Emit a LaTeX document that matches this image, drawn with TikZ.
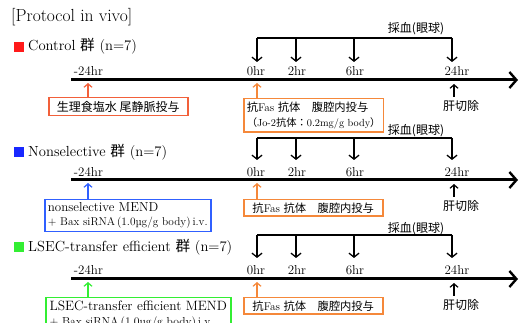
\documentclass[tikz,border=0pt]{standalone}
\usepackage{fontspec}
\newfontfamily\jp{Noto Sans CJK JP}
\usetikzlibrary{arrows.meta}
\definecolor{cred}{HTML}{FF1A1A}
\definecolor{cbox}{HTML}{F2603A}
\definecolor{corange}{HTML}{F5883A}
\definecolor{cblue}{HTML}{3060FF}
\definecolor{cbsq}{HTML}{1828FF}
\definecolor{cgreen}{HTML}{33EE33}
\newcommand\mytimeline[6]{%
  % #1 prefix, #2 timeline y, #3 label y, #4 bracket y, #5 bracket text y, #6 tip y
  \coordinate (#1s) at (71,#2);
  \coordinate (#1e) at (518,#2);
  \draw[tline] (#1s) -- (#1e);
  \coordinate (#1m24) at (88,#2);
  \coordinate (#1h0) at (257,#2);
  \coordinate (#1h24) at (454,#2);
  \node[tlab] (#1lm24) at (88.5,#3) {-24hr};
  \node[tlab] (#1lh0) at (256,#3) {0hr};
  \node[tlab] (#1lh2) at (297,#3) {2hr};
  \node[tlab] (#1lh6) at (355,#3) {6hr};
  \node[tlab] (#1lh24) at (457,#3) {24hr};
  \coordinate (#1b0) at (257,#4);
  \coordinate (#1b2) at (296,#4);
  \coordinate (#1b6) at (354,#4);
  \coordinate (#1b24) at (452,#4);
  \coordinate (#1p0) at (257,#6);
  \coordinate (#1p2) at (296,#6);
  \coordinate (#1p6) at (354,#6);
  \coordinate (#1p24) at (452,#6);
  \draw[bline] (#1b0) -- (#1b24);
  \draw[darrow] (#1b0) -- (#1p0);
  \draw[darrow] (#1b2) -- (#1p2);
  \draw[darrow] (#1b6) -- (#1p6);
  \draw[darrow] (#1b24) -- (#1p24);
  \node[jlab] (#1blood) at (416,#5) {\jp 採血(眼球)};
  \node[jlab] (#1cut) at (461,{#2+26}) {\jp 肝切除};
  \coordinate (#1cuta) at (454,{#2+17});
  \draw[uarrow] (#1cuta) -- ([yshift=-4pt]#1h24);
}
\begin{document}
\begin{tikzpicture}[x=1pt,y=-1pt,
  tline/.style={line width=3pt, -{Straight Barb[length=7pt,width=16pt,line width=2.4pt]}},
  bline/.style={line width=1.3pt},
  darrow/.style={line width=1.3pt, -{Straight Barb[length=4pt,width=10pt]}},
  uarrow/.style={line width=1.2pt, -{Straight Barb[length=3.5pt,width=8pt]}},
  tlab/.style={inner sep=0pt, font=\fontsize{13}{15}\selectfont},
  jlab/.style={inner sep=0pt, font=\fontsize{12}{14}\selectfont},
  head/.style={inner sep=0pt, anchor=west, font=\fontsize{14.6}{17}\selectfont},
  sq/.style={inner sep=0pt, minimum size=10pt},
  box/.style={line width=1.5pt, anchor=north west, inner sep=3pt, align=left},
]
\useasboundingbox (0,0) rectangle (520,323);
\node[head, font=\fontsize{17.5}{20}\selectfont] (title) at (11,17) {[Protocol in vivo]};

% Control
\node[sq, fill=cred] (csq) at (19,47) {};
\node[head] (chead) at (28,46) {Control {\jp 群} (n=7)};
\mytimeline{c}{80}{71}{38}{29}{62}
\node[box, draw=cbox, minimum width=139pt, minimum height=18pt, font=\fontsize{12}{14}\selectfont] (cA) at (48,97) {\jp 生理食塩水 尾静脈投与};
\node[box, draw=corange, minimum width=139pt, minimum height=29pt, font=\fontsize{11.3}{15}\selectfont] (cB) at (243,98)
  {{\jp 抗}Fas {\jp 抗体　腹腔内投与}\\{\fontsize{10.3}{11}\selectfont{\jp （}Jo-2{\jp 抗体：}0.2mg/g body{\jp ）}}};
\draw[uarrow, draw=cbox] (cA.north -| cm24) -- ([yshift=-3pt]cm24);
\draw[uarrow, draw=corange] (cB.north -| ch0) -- ([yshift=-3pt]ch0);

% Nonselective
\node[sq, fill=cbsq] (nsq) at (19,152) {};
\node[head] (nhead) at (28,152) {Nonselective {\jp 群} (n=7)};
\mytimeline{n}{180}{172}{138}{131}{160}
\node[box, draw=cblue, minimum width=166pt, minimum height=31pt, font=\fontsize{13}{14}\selectfont] (nA) at (44,199)
  {nonselective MEND\\{\fontsize{11.3}{13}\selectfont + Bax siRNA\,(1.0µg/g body)\,i.v.}};
\node[box, draw=corange, minimum width=139pt, minimum height=16.5pt, font=\fontsize{11.3}{13}\selectfont] (nB) at (243,199)
  {{\jp 抗}Fas {\jp 抗体　腹腔内投与}};
\draw[uarrow, draw=cblue] (nA.north -| nm24) -- ([yshift=-3pt]nm24);
\draw[uarrow, draw=corange] (nB.north -| nh0) -- ([yshift=-3pt]nh0);

% LSEC
\node[sq, fill=cgreen] (lsq) at (19,247) {};
\node[head] (lhead) at (28,247) {LSEC-transfer efficient {\jp 群} (n=7)};
\mytimeline{l}{279}{270}{235}{229}{258}
\node[box, draw=cgreen, minimum width=185pt, font=\fontsize{13.5}{15}\selectfont] (lA) at (45,297)
  {LSEC-transfer efficient MEND\\{\fontsize{11.6}{13}\selectfont + Bax siRNA\,(1.0µg/g body)\,i.v.}};
\node[box, draw=corange, minimum width=139pt, minimum height=16.5pt, font=\fontsize{11.3}{13}\selectfont] (lB) at (243,297)
  {{\jp 抗}Fas {\jp 抗体　腹腔内投与}};
\draw[uarrow, draw=cgreen] (lA.north -| lm24) -- ([yshift=-3pt]lm24);
\draw[uarrow, draw=corange] (lB.north -| lh0) -- ([yshift=-3pt]lh0);
\end{tikzpicture}
\end{document}
